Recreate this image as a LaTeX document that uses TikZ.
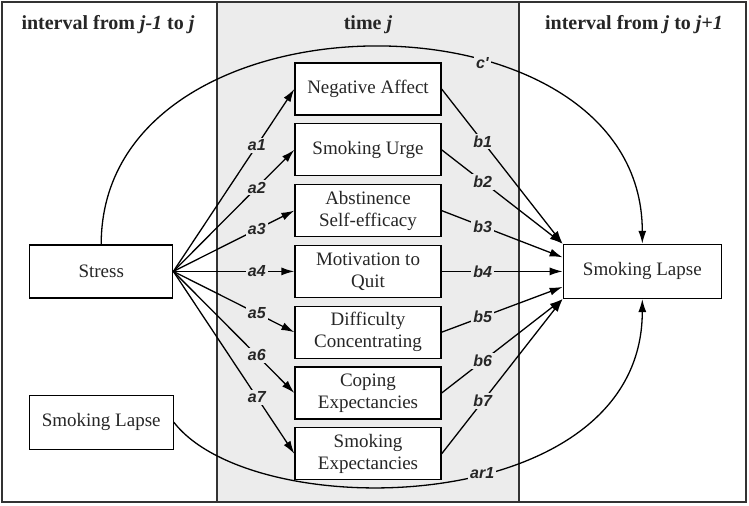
\documentclass[tikz,border=0pt]{standalone}
\usepackage{fontspec}
\setmainfont{Liberation Serif}
\setsansfont{Liberation Sans}
\usetikzlibrary{positioning,arrows.meta}
\definecolor{colgray}{RGB}{236,236,236}

\begin{document}
\begin{tikzpicture}[x=0.5pt, y=-0.5pt, line width=0.65pt,
        font=\fontsize{9.5}{11}\selectfont, text=black!85,
        medbox/.style={draw, fill=white, minimum width=73pt, minimum height=26pt, inner sep=2pt, align=center},
        arr/.style={-{Latex[length=6.5pt,width=4pt]}},
        lab/.style={font=\sffamily\bfseries\itshape\fontsize{8}{9}\selectfont, fill=colgray, inner sep=1pt},
        head/.style={font=\bfseries, anchor=base}]
        \useasboundingbox (0,0) rectangle (749,505);
        % Columns
        \fill[colgray] (217,2) rectangle (519,502);
        \draw[black!80, line width=0.9pt] (2,2) rectangle (746,502);
        \draw[black!80, line width=0.9pt] (217,2) -- (217,502);
        \draw[black!80, line width=0.9pt] (519,2) -- (519,502);
        \node[head] (h1) at (108,29) {interval from \textit{j-1} to \textit{j}};
        \node[head] (h2) at (368,29) {time \textit{j}};
        \node[head] (h3) at (634,29) {interval from \textit{j} to \textit{j+1}};
        % Mediators at time j
        \node[medbox] (na) at (368,89) {Negative Affect};
        \node[medbox, below=3.75pt of na] (su) {Smoking Urge};
        \node[medbox, below=3.75pt of su] (ase) {Abstinence\\Self-efficacy};
        \node[medbox, below=3.75pt of ase] (mq) {Motivation to\\Quit};
        \node[medbox, below=3.75pt of mq] (dc) {Difficulty\\Concentrating};
        \node[medbox, below=3.75pt of dc] (ce) {Coping\\Expectancies};
        \node[medbox, below=3.75pt of ce] (se) {Smoking\\Expectancies};
        % Predictors and outcome
        \node[medbox, minimum width=71.5pt, minimum height=26.5pt, left=60.5pt of mq] (stress) {Stress};
        \node[medbox, minimum width=72pt, minimum height=27pt, below=48pt of stress] (slapse) {Smoking Lapse};
        \node[medbox, minimum width=79pt, minimum height=27pt, right=60.5pt of mq] (lapse) {Smoking Lapse};
        % a paths
        \draw[arr] (stress.east) -- node[lab, pos=0.69] {a1} (na.west);
        \draw[arr] (stress.east) -- node[lab, pos=0.69] {a2} (su.west);
        \draw[arr] (stress.east) -- node[lab, pos=0.69] {a3} (ase.west);
        \draw[arr] (stress.east) -- node[lab, pos=0.69] {a4} (mq.west);
        \draw[arr] (stress.east) -- node[lab, pos=0.69] {a5} (dc.west);
        \draw[arr] (stress.east) -- node[lab, pos=0.69] {a6} (ce.west);
        \draw[arr] (stress.east) -- node[lab, pos=0.69] {a7} (se.west);
        % b paths
        \draw[arr] (na.east) -- node[lab, pos=0.34] {b1} (lapse.north west);
        \draw[arr] (su.east) -- node[lab, pos=0.34] {b2} (lapse.north west);
        \draw[arr] (ase.east) -- node[lab, pos=0.34] {b3} (lapse.170);
        \draw[arr] (mq.east) -- node[lab, pos=0.34] {b4} (lapse.west);
        \draw[arr] (dc.east) -- node[lab, pos=0.34] {b5} (lapse.191);
        \draw[arr] (ce.east) -- node[lab, pos=0.34] {b6} (lapse.south west);
        \draw[arr] (se.east) -- node[lab, pos=0.34] {b7} (lapse.south west);
        % Direct and autoregressive paths
        \draw[arr] (stress.north) .. controls +(0,-262) and +(0,-262) .. node[lab, pos=0.64] {c\textquotesingle} (lapse.north);
        \draw[arr] (slapse.east) .. controls +(80,104) and +(0,220) .. node[lab, pos=0.57] {ar1} (lapse.south);
\end{tikzpicture}
\end{document}
